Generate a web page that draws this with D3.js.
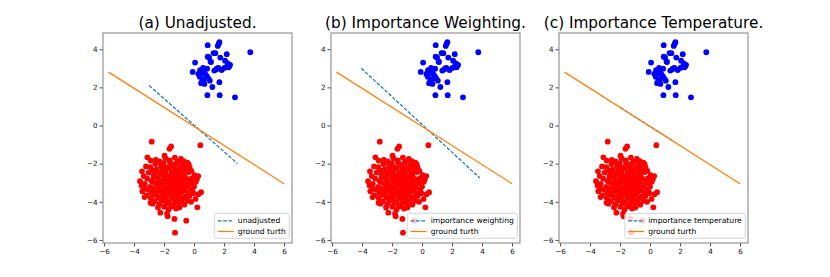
<!DOCTYPE html>
<html>
<head>
<meta charset="utf-8">
<script src="https://cdn.jsdelivr.net/npm/d3@7"></script>
<style>
  body { margin: 0; background: #fff; }
  text { font-family: "DejaVu Sans", sans-serif; }
</style>
</head>
<body>
<script>
var svgWidth = 830;
var svgHeight = 277;

// chart values
var titles = ["(a) Unadjusted.", "(b) Importance Weighting.", "(c) Importance Temperature."];
var fitLabels = ["unadjusted", "importance weighting", "importance temperature"];
var truthLabel = "ground turth";
var xTicks = [-6, -4, -2, 0, 2, 4, 6];
var yTicks = [-6, -4, -2, 0, 2, 4];

var truthLine = [[-5.7, 2.8], [6, -3.05]];
var fitLines = [
  [[-3.0, 2.1], [2.9, -2.0]],
  [[-4.05, 3.0], [3.85, -2.75]],
  [[-2.0, 0.95], [1.6, -0.85]]
];

var bluePoints = [
  [0.91, 4.21], [1.58, 4.17], [1.69, 4.37], [1.64, 4.28], [3.75, 3.84], [1.42, 3.79], [2.18, 3.74],
  [0.91, 3.61], [1.0, 3.57], [1.75, 3.56], [0.07, 3.3], [1.13, 3.33], [2.07, 3.4], [2.25, 3.25],
  [2.35, 3.12], [2.18, 3.09], [2.02, 3.02], [1.62, 3.02], [1.49, 2.95], [1.35, 2.88], [0.87, 2.98],
  [0.69, 2.88], [-0.09, 2.81], [0.45, 2.74], [0.38, 2.56], [0.78, 2.67], [0.87, 2.56], [0.95, 2.46],
  [1.05, 2.35], [0.47, 2.22], [0.69, 2.18], [1.22, 2.02], [1.69, 2.27], [0.89, 1.59], [1.71, 1.59],
  [2.73, 1.48], [0.6, 3.02], [1.84, 2.91], [0.29, 2.7], [0.65, 2.43], [0.55, 2.36], [2.4, 3.18],
  [1.1, 3.35], [0.4, 2.9], [1.55, 3.0], [2.3, 3.05], [1.3, 3.8]
];

var redPoints = [
  [-2.82, -0.85], [0.42, -1.03], [-1.53, -1.1], [-1.64, -1.22], [-3.11, -1.67], [-2.89, -1.84],
  [-3.47, -2.4], [-3.6, -2.92], [-3.33, -3.28], [0.47, -3.5], [0.3, -3.6], [-2.77, -4.1],
  [-2.25, -4.57], [-1.8, -4.62], [-1.76, -4.76], [-0.98, -4.3], [-1.31, -4.9], [-0.52, -4.99],
  [-1.27, -5.62], [0.22, -4.29], [-1.97, -1.58], [0.28, -2.65], [0.18, -2.82], [-0.36, -2.03],
  [-2.7, -2.7], [-2.75, -2.35],
  [-1.9, -1.72], [-1.28, -1.68], [-0.88, -1.75], [-2.3, -1.88], [-1.62, -1.83], [-1.08, -1.9], [-0.68, -1.87],
  [-2.58, -2.02], [-2.02, -1.97], [-1.48, -2.05], [-1.18, -1.98], [-0.79, -2.06], [-0.45, -1.95],
  [-2.92, -2.18], [-2.2, -2.12], [-1.83, -2.2], [-1.38, -2.14], [-0.97, -2.22], [-0.58, -2.16],
  [-2.48, -2.3], [-2.08, -2.34], [-1.68, -2.27], [-1.31, -2.36], [-0.88, -2.29], [-0.52, -2.33], [-0.18, -2.38],
  [-3.02, -2.47], [-2.32, -2.5], [-1.92, -2.43], [-1.52, -2.52], [-1.14, -2.45], [-0.74, -2.49], [-0.34, -2.44],
  [-2.68, -2.62], [-2.18, -2.58], [-1.78, -2.66], [-1.42, -2.6], [-1.03, -2.64], [-0.63, -2.57], [0.04, -2.6],
  [-3.12, -2.78], [-2.44, -2.74], [-1.98, -2.8], [-1.62, -2.73], [-1.22, -2.79], [-0.88, -2.72], [-0.49, -2.8], [-0.14, -2.76],
  [-2.82, -2.92], [-2.28, -2.88], [-1.84, -2.95], [-1.44, -2.89], [-1.08, -2.94], [-0.71, -2.87], [-0.28, -2.93],
  [-3.28, -3.06], [-2.62, -3.02], [-2.12, -3.08], [-1.68, -3.03], [-1.29, -3.1], [-0.94, -3.04], [-0.56, -3.09], [-0.19, -3.02],
  [-2.92, -3.22], [-2.38, -3.18], [-1.96, -3.24], [-1.54, -3.17], [-1.17, -3.23], [-0.79, -3.2], [-0.41, -3.25],
  [-3.08, -3.36], [-2.66, -3.33], [-2.18, -3.39], [-1.79, -3.32], [-1.41, -3.38], [-0.99, -3.34], [-0.61, -3.4], [-0.12, -3.35],
  [-2.86, -3.52], [-2.42, -3.48], [-1.98, -3.54], [-1.58, -3.47], [-1.19, -3.53], [-0.81, -3.49], [-0.34, -3.55],
  [-3.18, -3.66], [-2.59, -3.63], [-2.14, -3.69], [-1.76, -3.62], [-1.33, -3.68], [-0.96, -3.64], [-0.52, -3.7],
  [-2.88, -3.82], [-2.38, -3.78], [-1.92, -3.84], [-1.49, -3.79], [-1.09, -3.83], [-0.69, -3.8],
  [-2.62, -3.97], [-2.12, -3.93], [-1.69, -3.99], [-1.24, -3.94], [-0.86, -3.98],
  [-2.31, -4.12], [-1.84, -4.08], [-1.39, -4.13], [-1.02, -4.09],
  [-1.98, -4.26], [-1.52, -4.24],
  [-1.6, -1.95], [-2.05, -2.25], [-1.15, -2.3], [-2.6, -2.4], [-0.7, -2.65], [-1.25, -2.55], [-2.35, -2.95],
  [-1.9, -2.6], [-1.0, -2.85], [-1.55, -3.0], [-2.4, -3.3], [-0.65, -3.15], [-1.35, -3.25], [-2.0, -3.45],
  [-1.0, -3.45], [-2.75, -3.6], [-1.55, -3.7], [-0.3, -3.7], [-2.2, -3.85], [-1.3, -3.88], [-0.45, -3.95],
  [-3.3, -3.75], [-2.9, -4.05], [-0.65, -4.15], [-3.45, -3.45], [-3.35, -2.65], [0.0, -3.2], [0.12, -2.95],
  [-0.05, -3.55], [-3.5, -3.15], [-2.55, -1.8], [-0.3, -2.2], [-3.2, -2.15], [-1.7, -4.4], [-2.4, -4.3],
  [-1.2, -4.35], [-0.2, -4.0], [0.1, -3.85]
];

var axLefts = [103, 331, 559];
var axTop = 33, axWidth = 189, axHeight = 210;

var svg = d3.select("body")
  .append("svg")
  .attr("width", svgWidth)
  .attr("height", svgHeight);

function minusFormat(d) { return d < 0 ? "\u2212" + (-d) : d; }

titles.forEach(function (title, i) {
  var g = svg.append("g")
    .attr("transform", "translate(" + axLefts[i] + "," + axTop + ")");

  var x = d3.scaleLinear().domain([-6.07, 6.53]).range([0, axWidth]);
  var y = d3.scaleLinear().domain([-6.16, 4.85]).range([axHeight, 0]);

  // axes
  var bottomAxis = d3.axisBottom(x).tickValues(xTicks).tickSize(3.5).tickPadding(2).tickFormat(minusFormat);
  var leftAxis = d3.axisLeft(y).tickValues(yTicks).tickSize(3.5).tickPadding(2).tickFormat(minusFormat);

  var xg = g.append("g").attr("transform", "translate(0," + axHeight + ")").call(bottomAxis);
  var yg = g.append("g").call(leftAxis);
  [xg, yg].forEach(function (a) {
    a.select(".domain").remove();
    a.selectAll(".tick line").attr("stroke", "#333").attr("stroke-width", 0.9);
    a.selectAll(".tick text").style("font-family", "DejaVu Sans").style("font-size", "7.2px").attr("fill", "#111");
  });

  var line = d3.line().x(function (d) { return x(d[0]); }).y(function (d) { return y(d[1]); });

  // scatter
  g.selectAll(".blue").data(bluePoints).enter().append("circle")
    .attr("cx", function (d) { return x(d[0]); })
    .attr("cy", function (d) { return y(d[1]); })
    .attr("r", 2.9)
    .attr("fill", "#0000ff");

  g.selectAll(".red").data(redPoints).enter().append("circle")
    .attr("cx", function (d) { return x(d[0]); })
    .attr("cy", function (d) { return y(d[1]); })
    .attr("r", 2.9)
    .attr("fill", "#ff0000");

  // fitted boundary and ground truth
  g.append("path").datum(fitLines[i]).attr("d", line)
    .attr("fill", "none").attr("stroke", "#1f77b4").attr("stroke-width", 1.25)
    .attr("stroke-dasharray", "3.7,1.6");
  g.append("path").datum(truthLine).attr("d", line)
    .attr("fill", "none").attr("stroke", "#ff7f0e").attr("stroke-width", 1.25);

  // frame
  g.append("rect").attr("width", axWidth).attr("height", axHeight)
    .attr("fill", "none").attr("stroke", "#8a8a8a").attr("stroke-width", 1.1);

  // title
  svg.append("text")
    .attr("x", axLefts[i] + axWidth / 2)
    .attr("y", 28)
    .attr("text-anchor", "middle")
    .style("font-size", "15.3px")
    .text(title);

  // legend
  var lg = g.append("g");
  var box = lg.append("rect").attr("rx", 2).attr("ry", 2)
    .attr("fill", "#fff").attr("fill-opacity", 0.8)
    .attr("stroke", "#ccc").attr("stroke-width", 0.8);
  var labels = [fitLabels[i], truthLabel];
  var maxW = 0;
  labels.forEach(function (lab, k) {
    var t = lg.append("text").attr("x", 23.5).attr("y", 7.5 + k * 10.7)
      .attr("dy", "0.35em")
      .style("font-size", "7.6px")
      .text(lab);
    maxW = Math.max(maxW, t.node().getComputedTextLength());
    lg.append("line").attr("x1", 3.5).attr("x2", 19.5)
      .attr("y1", 7.5 + k * 10.7).attr("y2", 7.5 + k * 10.7)
      .attr("stroke", k === 0 ? "#1f77b4" : "#ff7f0e")
      .attr("stroke-width", 1.25)
      .attr("stroke-dasharray", k === 0 ? "3.7,1.6" : null);
  });
  var bw = 23.5 + maxW + 3.5, bh = 25;
  box.attr("width", bw).attr("height", bh);
  lg.attr("transform", "translate(" + (axWidth - 2.7 - bw) + "," + (axHeight - 4.7 - bh) + ")");
});
</script>
</body>
</html>
